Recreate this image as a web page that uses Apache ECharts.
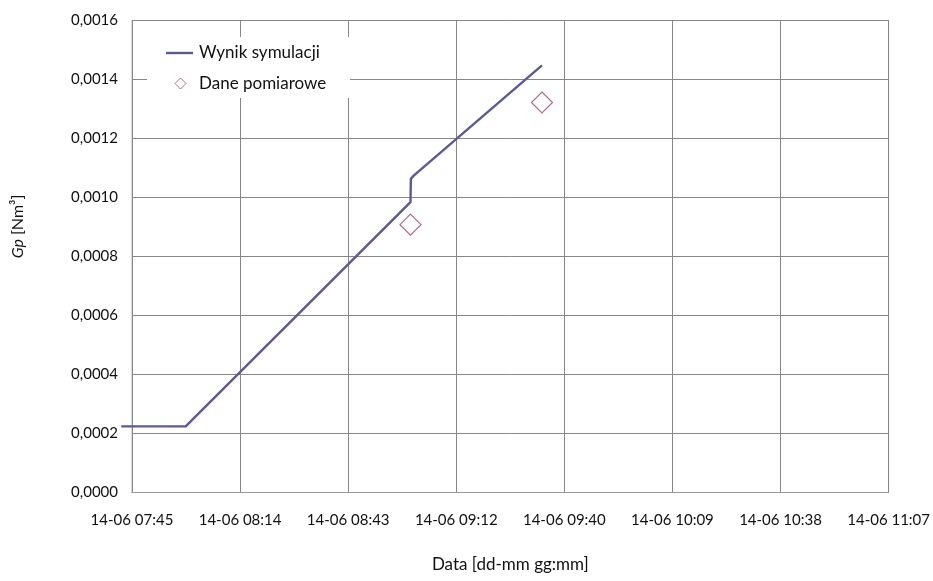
<!DOCTYPE html>
<html>
<head>
<meta charset="utf-8">
<script src="https://cdn.jsdelivr.net/npm/echarts@6/dist/echarts.min.js"></script>
<style>
  html, body { margin: 0; padding: 0; background: #fff; }
  #chart { width: 933px; height: 581px; }
</style>
</head>
<body>
<div id="chart"></div>
<script>
// Date shown in front of every clock time on the time axis
const dayLabel = '14-06';

// Simulation result (clock time, Gp in Nm3)
const simTimes  = ['07:42:20', '07:59:30', '08:59:24', '08:59:30', '09:00:20', '09:34:26'];
const simValues = [0.000224, 0.000224, 0.000984, 0.001063, 0.001075, 0.001448];

// Measured data
const measTimes  = ['08:59:24', '09:34:26'];
const measValues = [0.000908, 0.001322];

// Time axis: starts at 07:45:12, one major step every 0.02 day (28.8 min), 7 steps
const axisStart = '07:45:12';
const axisStepMin = 28.8;
const axisSteps = 7;

const yMax = 0.0016;
const yStep = 0.0002;

const FONT = 'Lato, "Open Sans", "Liberation Sans", sans-serif';
const LINE_COLOR = '#5a5a9a';
const MARK_COLOR = '#a0426e';

function toMinutes(t) {
  const p = t.split(':').map(Number);
  return p[0] * 60 + p[1] + (p[2] || 0) / 60;
}
const originMin = toMinutes(axisStart);
const offset = t => toMinutes(t) - originMin;

const simData = simTimes.map((t, i) => [offset(t), simValues[i]]);
const measData = measTimes.map((t, i) => [offset(t), measValues[i]]);

function fmtClock(off) {
  const m = Math.round(originMin + off);
  const hh = String(Math.floor(m / 60)).padStart(2, '0');
  const mm = String(m % 60).padStart(2, '0');
  return dayLabel + ' ' + hh + ':' + mm;
}

// The simulated curve starts slightly before the first axis tick, so it is
// drawn as one polyline through the axis scales without clipping to the grid.
function renderSimLine(params, api) {
  if (params.dataIndex !== 0) return null;
  const pts = simData.map(d => api.coord(d));
  return {
    type: 'polyline',
    shape: { points: pts },
    style: { stroke: LINE_COLOR, lineWidth: 2.4, fill: null, lineJoin: 'round' }
  };
}

const chart = echarts.init(document.getElementById('chart'), null, { renderer: 'canvas' });

chart.setOption({
  animation: false,
  backgroundColor: '#fff',
  textStyle: { fontFamily: FONT },
  grid: {
    left: 132, right: 43, top: 20.5, bottom: 88.5,
    show: true, borderColor: '#ababab', borderWidth: 1, backgroundColor: 'transparent'
  },
  graphic: {
    elements: [{
      type: 'rect', z: 1, silent: true,
      shape: { x: 147, y: 37, width: 203, height: 61 },
      style: { fill: '#fff' }
    }]
  },
  legend: [
    {
      data: [{
        name: 'Wynik symulacji', icon: 'rect',
        itemStyle: { color: LINE_COLOR, borderWidth: 0 }
      }],
      left: 166, top: 44, padding: 0,
      itemWidth: 27, itemHeight: 2.4, itemGap: 0,
      textStyle: { fontFamily: FONT, fontSize: 17, lineHeight: 18, color: '#111', padding: [0, 0, 0, 1] }
    },
    {
      data: [{
        name: 'Dane pomiarowe', icon: 'diamond',
        itemStyle: { color: '#fff', borderColor: MARK_COLOR, borderWidth: 1 }
      }],
      left: 174.5, top: 74.5, padding: 0,
      itemWidth: 11, itemHeight: 11,
      textStyle: { fontFamily: FONT, fontSize: 17, lineHeight: 18, color: '#111', padding: [0, 0, 0, 8] }
    }
  ],
  xAxis: {
    type: 'value',
    min: 0,
    max: axisStepMin * axisSteps,
    interval: axisStepMin,
    name: 'Data [dd-mm gg:mm]',
    nameLocation: 'middle',
    nameGap: 64,
    nameTextStyle: { fontFamily: FONT, fontSize: 17, color: '#111' },
    axisLine: { show: true, lineStyle: { color: '#9a9a9a', width: 1 } },
    axisTick: { show: false },
    axisLabel: {
      formatter: fmtClock, margin: 20,
      fontFamily: FONT, fontSize: 15, color: '#111'
    },
    splitLine: { show: true, lineStyle: { color: '#888', width: 1 } }
  },
  yAxis: {
    type: 'value',
    min: 0,
    max: yMax,
    interval: yStep,
    name: '{i|Gp} [Nm³]',
    nameLocation: 'middle',
    nameRotate: 90,
    nameGap: 106,
    nameTextStyle: {
      fontFamily: FONT, fontSize: 16, color: '#111',
      padding: [0, 0, 0, 60],
      rich: { i: { fontFamily: FONT, fontSize: 16, fontStyle: 'italic', color: '#111' } }
    },
    axisLine: { show: true, lineStyle: { color: '#8c8c8c', width: 1 } },
    axisTick: { show: false },
    axisLabel: {
      formatter: v => v.toFixed(4).replace('.', ','),
      margin: 14,
      fontFamily: FONT, fontSize: 15, color: '#111'
    },
    splitLine: { show: true, lineStyle: { color: '#888', width: 1 } }
  },
  series: [
    {
      name: 'Wynik symulacji',
      type: 'custom',
      data: simData,
      encode: { x: 0, y: 1 },
      clip: false,
      z: 3,
      itemStyle: { color: LINE_COLOR },
      renderItem: renderSimLine
    },
    {
      name: 'Dane pomiarowe',
      type: 'scatter',
      data: measData,
      symbol: 'diamond',
      symbolSize: 21,
      z: 3,
      itemStyle: { color: '#fff', borderColor: MARK_COLOR, borderWidth: 1.2 }
    }
  ]
});
</script>
</body>
</html>
